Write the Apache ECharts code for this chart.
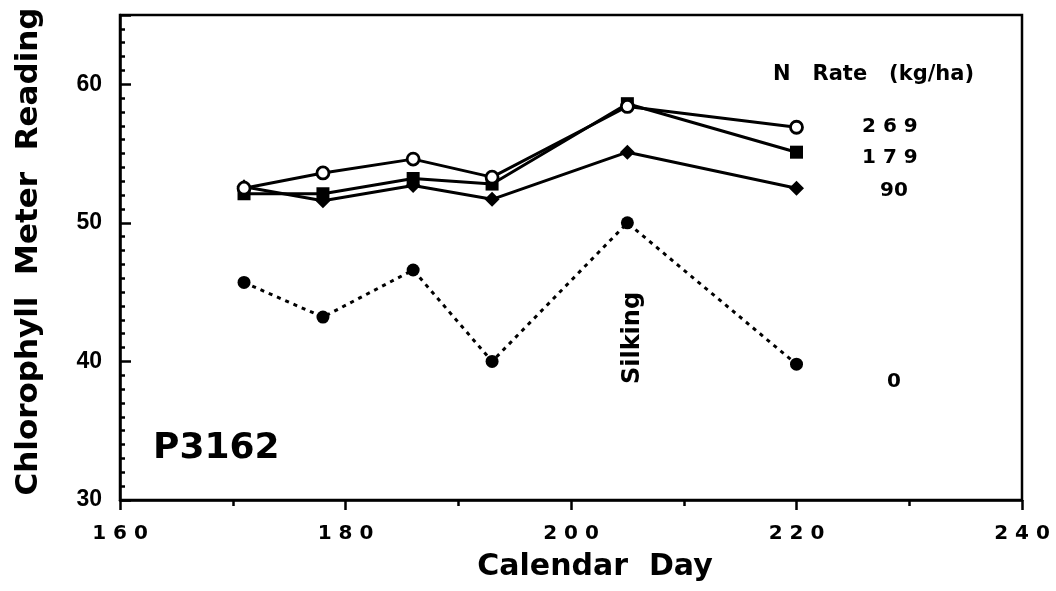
<!DOCTYPE html>
<html>
<head>
<meta charset="utf-8">
<script src="https://cdn.jsdelivr.net/npm/echarts@6/dist/echarts.min.js"></script>
<style>
html,body{margin:0;padding:0;background:#fff;}
#chart{width:1056px;height:591px;}
</style>
</head>
<body>
<div id="chart"></div>
<script>
const days = [171, 178, 186, 193, 205, 220];
const rate269 = [52.5, 53.6, 54.6, 53.3, 58.4, 56.9];
const rate179 = [52.1, 52.1, 53.2, 52.8, 58.6, 55.1];
const rate90  = [52.6, 51.6, 52.7, 51.7, 55.1, 52.5];
const rate0   = [45.7, 43.2, 46.6, 40.0, 50.0, 39.8];
const xTicks = [160, 180, 200, 220, 240];
const yTicks = [30, 40, 50, 60];

const pair = (ys) => days.map((d, i) => [d, ys[i]]);
const chart = echarts.init(document.getElementById('chart'), null, {renderer: 'canvas'});
const FB = 'DejaVu Sans';
const FA = 'Liberation Sans';

function lineSeries(name, ys, symbol, size, fill, dashed) {
  return {
    name: name, type: 'line', data: pair(ys),
    symbol: symbol, symbolSize: size,
    lineStyle: {color: '#000', width: 3, type: dashed ? [4, 5] : 'solid'},
    itemStyle: {color: fill, borderColor: '#000', borderWidth: fill === '#fff' ? 2.8 : 0},
    z: 3, animation: false
  };
}

chart.setOption({
  backgroundColor: '#fff',
  animation: false,
  grid: {left: 120, right: 34, top: 15, bottom: 91, show: true, borderColor: '#000', borderWidth: 2.5, backgroundColor: 'transparent'},
  xAxis: {
    type: 'value', min: 160, max: 240, interval: 20,
    name: 'Calendar  Day', nameLocation: 'middle', nameGap: 52,
    nameTextStyle: {fontFamily: FB, fontWeight: 'bold', fontSize: 30, color: '#000', padding: [0, 0, 0, 48]},
    axisLine: {lineStyle: {color: '#000', width: 2.5}},
    axisTick: {show: true, inside: false, length: 10, lineStyle: {color: '#000', width: 2.5}},
    minorTick: {show: true, splitNumber: 2, length: 6, lineStyle: {color: '#000', width: 2.5}},
    splitLine: {show: false}, minorSplitLine: {show: false},
    axisLabel: {
      margin: 24, color: '#000', fontFamily: FB, fontWeight: 'bold', fontSize: 20,
      formatter: v => xTicks.includes(v) ? String(v).split('').join(' ') : ''
    }
  },
  yAxis: {
    type: 'value', min: 30, max: 65, interval: 10,
    name: 'Chlorophyll  Meter  Reading', nameLocation: 'middle', nameGap: 76,
    nameTextStyle: {fontFamily: FB, fontWeight: 'bold', fontSize: 31, color: '#000', padding: [0, 0, 0, 12]},
    axisLine: {lineStyle: {color: '#000', width: 2.5}},
    axisTick: {show: true, inside: true, length: 11, lineStyle: {color: '#000', width: 2.5}},
    minorTick: {show: true, splitNumber: 10, length: 5, lineStyle: {color: '#000', width: 2.5}},
    splitLine: {show: false}, minorSplitLine: {show: false},
    axisLabel: {
      margin: 18, color: '#000', fontFamily: FA, fontWeight: 'bold', fontSize: 23,
      formatter: v => yTicks.includes(v) ? String(v) : ''
    }
  },
  series: [
    lineSeries('0', rate0, 'circle', 13, '#000', true),
    lineSeries('90', rate90, 'diamond', 15, '#000', false),
    lineSeries('179', rate179, 'rect', 13, '#000', false),
    lineSeries('269', rate269, 'circle', 12, '#fff', false)
  ],
  graphic: [
    {type: 'text', x: 773, y: 75, style: {text: 'N   Rate   (kg/ha)', font: 'bold 21px "DejaVu Sans"', fill: '#000', textAlign: 'left', textVerticalAlign: 'middle'}},
    {type: 'text', x: 862, y: 127, style: {text: '2 6 9', font: 'bold 20px "DejaVu Sans"', fill: '#000', textAlign: 'left', textVerticalAlign: 'middle'}},
    {type: 'text', x: 862, y: 158, style: {text: '1 7 9', font: 'bold 20px "DejaVu Sans"', fill: '#000', textAlign: 'left', textVerticalAlign: 'middle'}},
    {type: 'text', x: 880, y: 191, style: {text: '90', font: 'bold 20px "DejaVu Sans"', fill: '#000', textAlign: 'left', textVerticalAlign: 'middle'}},
    {type: 'text', x: 887, y: 382, style: {text: '0', font: 'bold 20px "DejaVu Sans"', fill: '#000', textAlign: 'left', textVerticalAlign: 'middle'}},
    {type: 'text', x: 153, y: 449, style: {text: 'P3162', font: 'bold 36px "DejaVu Sans"', fill: '#000', textAlign: 'left', textVerticalAlign: 'middle'}},
    {type: 'text', x: 633, y: 338, rotation: Math.PI / 2, style: {text: 'Silking', font: 'bold 24px "DejaVu Sans"', fill: '#000', textAlign: 'center', textVerticalAlign: 'middle'}}
  ]
});
</script>
</body>
</html>
